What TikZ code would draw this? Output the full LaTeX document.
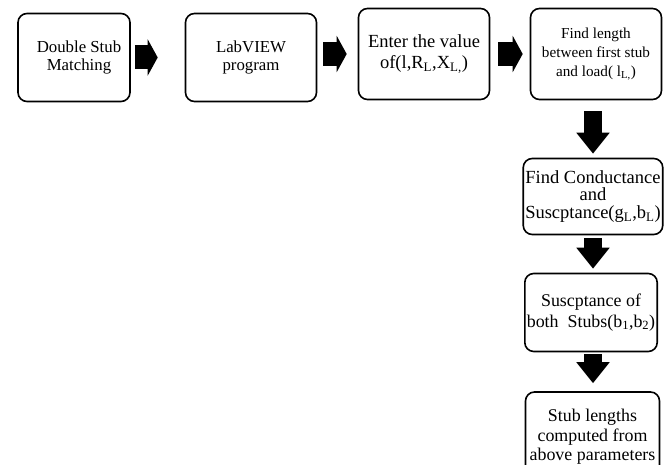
\documentclass[tikz,border=0pt]{standalone}
\usepackage{fontspec}
\setmainfont{Liberation Serif}
\usetikzlibrary{
    arrows.meta
}

\begin{document}
\begin{tikzpicture}[x=1pt,y=-1pt,
    stepbox/.style={draw,line width=1.6pt,rounded corners=9pt,align=center,inner sep=2pt,
        font=\fontsize{18}{19}\selectfont},
    fatright/.style={line width=24pt,-{Triangle[length=10pt,width=36pt]}},
    fatdown/.style={line width=18pt,-{Triangle[length=21pt,width=32pt]}}]
    \useasboundingbox (0,0) rectangle (670,465);
    \clip (0,0) rectangle (670,465);

    \node[stepbox,minimum width=112pt,minimum height=88pt,font=\fontsize{16.8}{18.5}\selectfont]
        (match) at (74,57.5) {\hspace*{10pt}Double Stub\\\hspace*{10pt}Matching};
    \node[stepbox,minimum width=131pt,minimum height=88pt,font=\fontsize{16.8}{18}\selectfont]
        (labview) at (251,57.5) {LabVIEW\\program};
    \node[stepbox,minimum width=131pt,minimum height=91pt,font=\fontsize{18.5}{21}\selectfont]
        (enter) at (424,54) {Enter the value\\of(l,R\textsubscript{L},X\textsubscript{L,})};
    \node[stepbox,minimum width=131pt,minimum height=91pt,font=\fontsize{15.2}{19}\selectfont]
        (findlen) at (596,54) {Find length\\between first stub\\and load( l\textsubscript{L,})};
    \node[stepbox,minimum width=139pt,minimum height=76pt,font=\fontsize{18.5}{17.5}\selectfont]
        (conduct) at (593,196.5) {Find Conductance\\and\\Suscptance(g\textsubscript{L},b\textsubscript{L})};
    \node[stepbox,minimum width=131pt,minimum height=78pt,font=\fontsize{17.9}{21}\selectfont]
        (suscept) at (591,312.5) {Suscptance of\\both\ \ Stubs(b\textsubscript{1},b\textsubscript{2})};
    \node[stepbox,minimum width=134pt,minimum height=90pt,font=\fontsize{17.9}{19.5}\selectfont]
        (lengths) at (592.5,437) {Stub lengths\\computed from\\above parameters};

    \draw[fatright,shorten <=4pt,shorten >=27pt] (match.east) -- (labview.west);
    \draw[fatright,shorten <=6pt,shorten >=11pt] (labview.east |- enter.east) -- (enter.west);
    \draw[fatright,shorten <=8pt,shorten >=7pt] (enter.east) -- (findlen.west);

    \draw[fatdown,shorten <=11pt,shorten >=4pt] (conduct.north |- findlen.south) -- (conduct.north);
    \draw[fatdown,shorten <=3pt,shorten >=4pt] (conduct.south) -- (conduct.south |- suscept.north);
    \draw[fatdown,shorten <=2pt,shorten >=8pt] (conduct.south |- suscept.south) -- (conduct.south |- lengths.north);
\end{tikzpicture}
\end{document}
